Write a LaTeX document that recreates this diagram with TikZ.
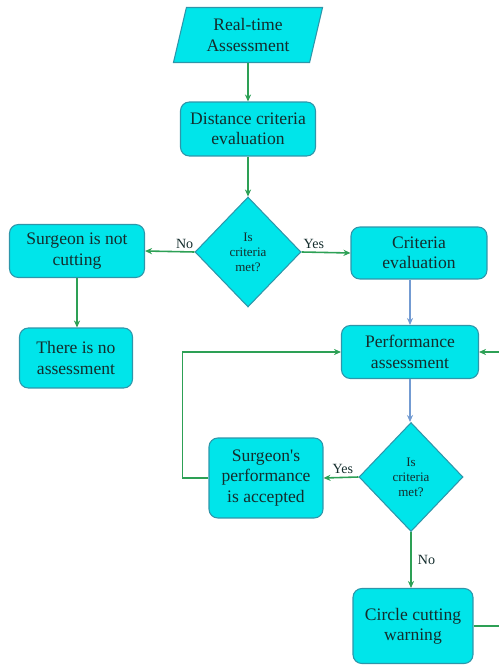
\documentclass[tikz,border=0pt]{standalone}
\usepackage{fontspec}
\setmainfont{Liberation Serif}
\usetikzlibrary{shapes.geometric,arrows.meta}
\definecolor{boxfill}{RGB}{0,229,234}
\definecolor{boxline}{RGB}{45,150,170}
\definecolor{flowgreen}{RGB}{45,160,85}
\definecolor{flowblue}{RGB}{115,155,210}
\definecolor{textdark}{RGB}{20,45,45}
\tikzset{
  procbox/.style={rectangle, rounded corners=5pt, fill=boxfill, draw=boxline,
    line width=0.6pt, align=center, inner sep=0pt, text=textdark,
    font=\rmfamily\fontsize{10}{11.5}\selectfont},
  decision/.style={diamond, fill=boxfill, draw=boxline, line width=0.6pt,
    align=center, inner sep=0pt, text=textdark,
    font=\rmfamily\fontsize{7.4}{8.6}\selectfont},
  inputbox/.style={trapezium, trapezium left angle=75, trapezium right angle=105,
    trapezium stretches=true, fill=boxfill, draw=boxline, line width=0.6pt,
    align=center, inner sep=0pt, text=textdark,
    font=\rmfamily\fontsize{10}{11.5}\selectfont},
  flow/.style={draw=flowgreen, line width=0.9pt, -{Stealth[length=4pt,width=3.5pt]}},
  flowb/.style={draw=flowblue, line width=0.9pt, -{Stealth[length=4pt,width=3.5pt]}},
  lbl/.style={font=\rmfamily\fontsize{8}{9}\selectfont, inner sep=1.5pt, text=textdark}
}
\begin{document}
\begin{tikzpicture}[x=0.02cm, y=-0.02cm]
\useasboundingbox (0,0) rectangle (499,665);
\clip (0,0) rectangle (499,665);

% nodes
\node[inputbox, minimum width=3cm, minimum height=1.1cm] (rt) at (248,35) {Real-time\\Assessment};
\node[procbox, minimum width=2.7cm, minimum height=1.08cm] (dce) at (248,129) {Distance criteria\\evaluation};
\node[decision, minimum width=2.12cm, minimum height=2.2cm] (d1) at (248,252) {Is\\criteria\\met?};
\node[procbox, minimum width=2.7cm, minimum height=1.06cm] (snc) at (77,251) {Surgeon is not\\cutting};
\node[procbox, minimum width=2.72cm, minimum height=1.04cm] (ce) at (419,253) {Criteria\\evaluation};
\node[procbox, minimum width=2.26cm, minimum height=1.2cm] (nas) at (76,358) {There is no\\assessment};
\node[procbox, minimum width=2.74cm, minimum height=1.06cm] (pa) at (410,352) {Performance\\assessment};
\node[decision, minimum width=2.08cm, minimum height=2.18cm] (d2) at (411,477) {Is\\criteria\\met?};
\node[procbox, minimum width=2.28cm, minimum height=1.6cm] (spa) at (266,478) {Surgeon\textquotesingle s\\performance\\is accepted};
\node[procbox, minimum width=2.4cm, minimum height=1.5cm] (ccw) at (413,626) {Circle cutting\\warning};

% connectors
\draw[flow] (rt) -- (dce);
\draw[flow] (dce) -- (d1);
\draw[flow] (d1.west) -- node[lbl, above, pos=0.2] {No} (snc.east);
\draw[flow] (d1.east) -- node[lbl, above, pos=0.25] {Yes} (ce.west);
\draw[flow] (snc.south) -- (snc.south |- nas.north);
\draw[flowb] (ce.south -| pa.south) -- (pa.north);
\draw[flowb] (pa.south) -- (pa.south |- d2.north);
\draw[flow] (d2.west) -- node[lbl, above, pos=0.45] {Yes} (spa.east);
\draw[flow] (d2.south) -- node[lbl, right, pos=0.5, xshift=2pt] {No} (d2.south |- ccw.north);
\draw[flow] (spa.west) -- ++(-26,0) |- (pa.west);
\draw[flow] (ccw.east) -- ++(60,0) |- (pa.east);
\end{tikzpicture}
\end{document}
